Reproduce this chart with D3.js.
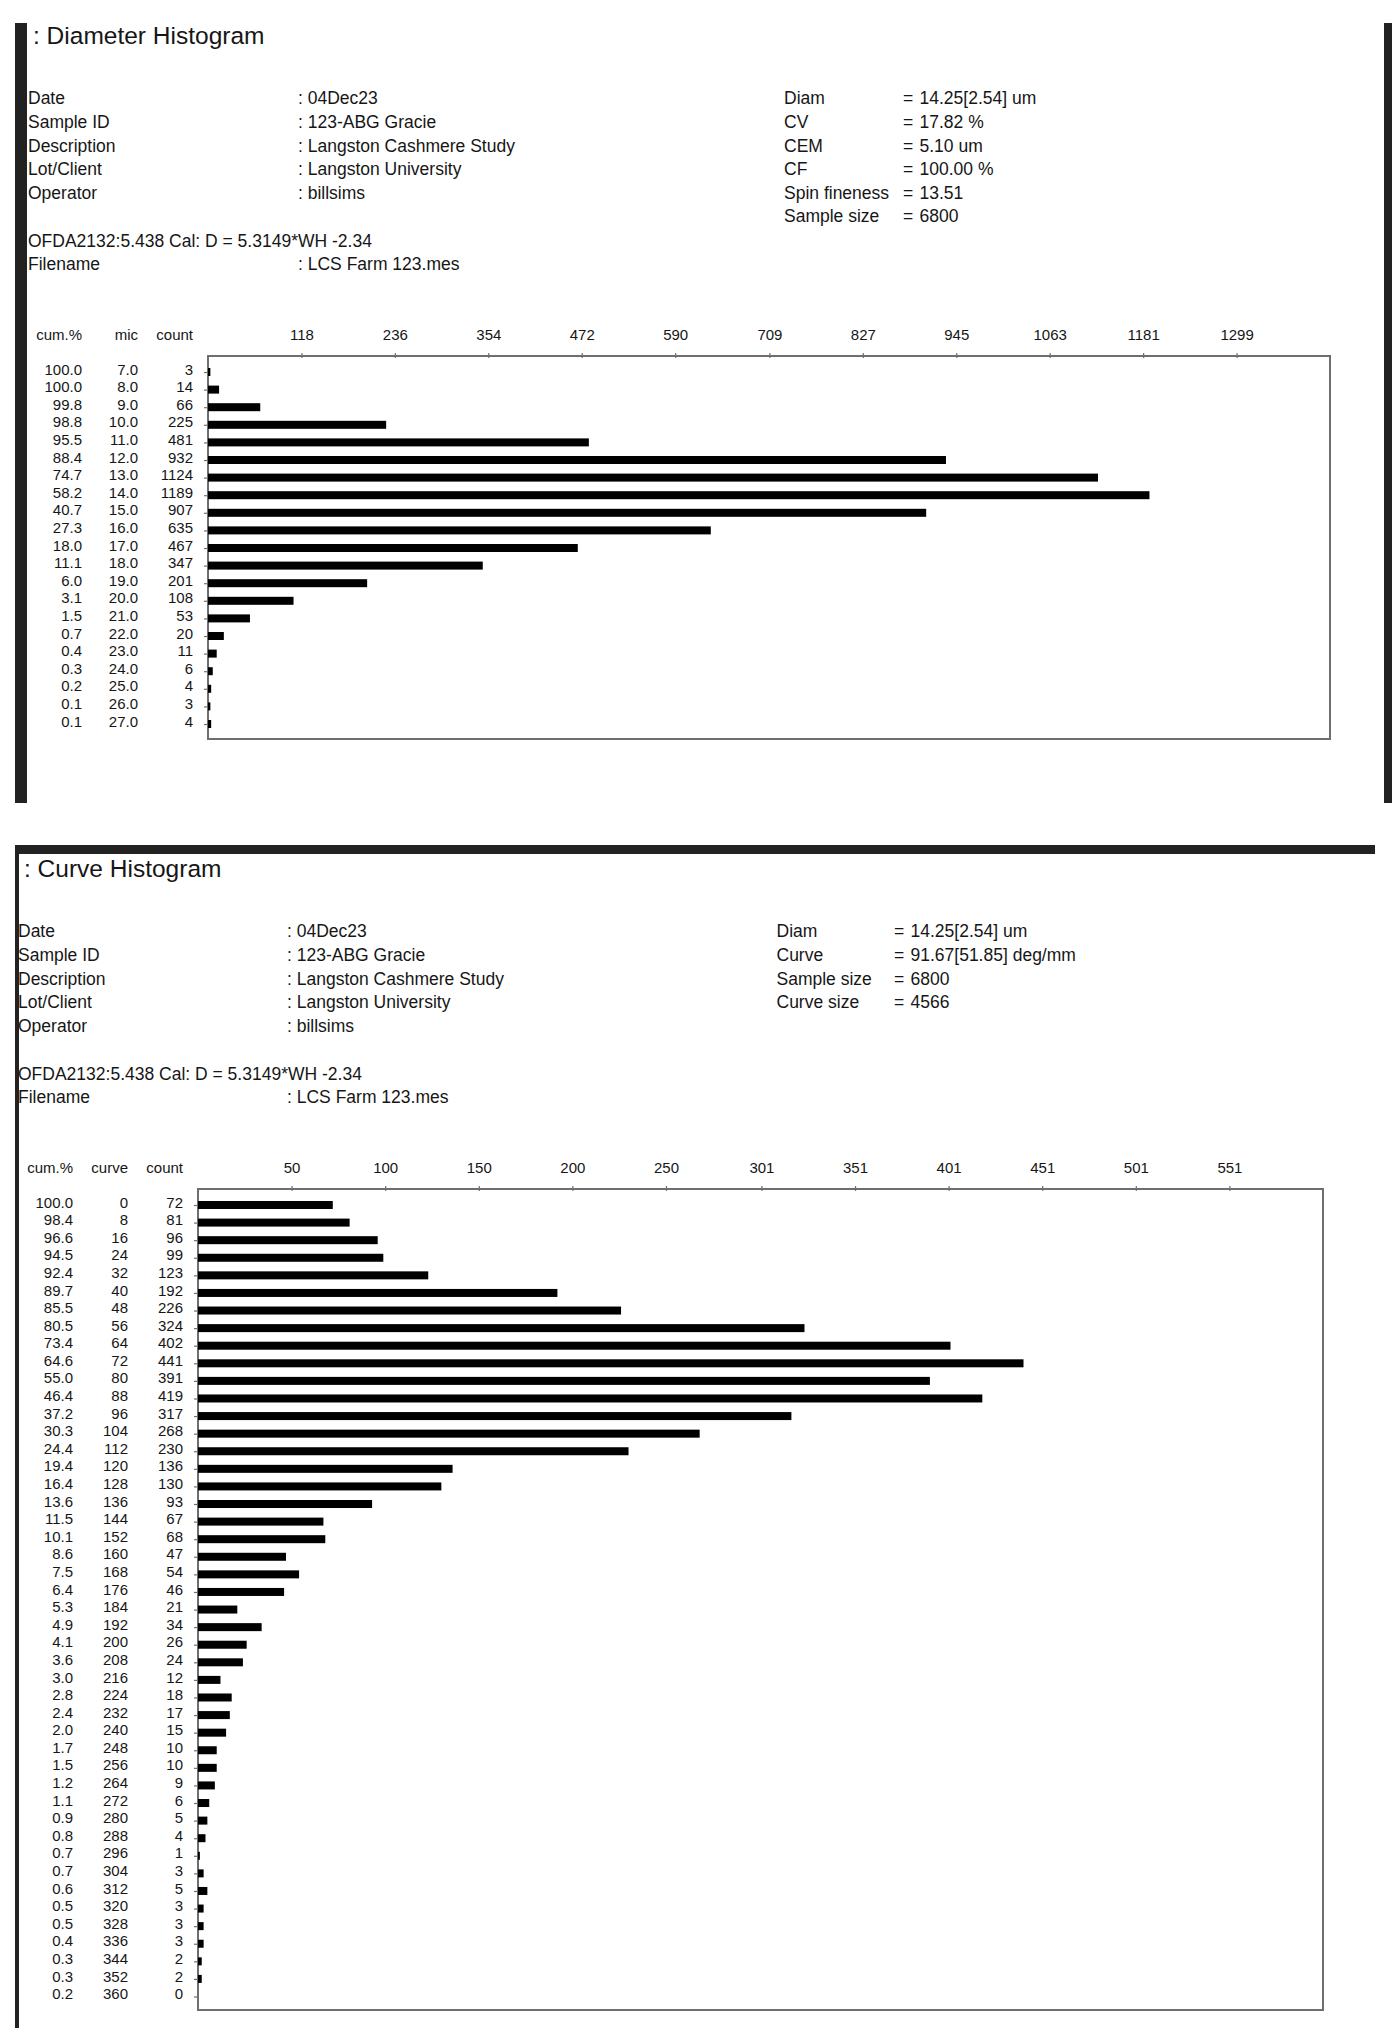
<!DOCTYPE html>
<html>
<head>
<meta charset="utf-8">
<script src="https://cdn.jsdelivr.net/npm/d3@7"></script>
<style>
  html, body { margin: 0; padding: 0; background: #fff; }
  svg { display: block; font-family: "Liberation Sans", Arial, sans-serif; }
</style>
</head>
<body>
<svg id="chart" width="1400" height="2028"></svg>
<script>
// ---------------- DATA ----------------
const infoLabels = ["Date", "Sample ID", "Description", "Lot/Client", "Operator"];
const infoValues = ["04Dec23", "123-ABG Gracie", "Langston Cashmere Study", "Langston University", "billsims"];
const calLine = "OFDA2132:5.438 Cal: D = 5.3149*WH -2.34";
const fileLabel = "Filename";
const fileValue = "LCS Farm 123.mes";

const diamTitle = ": Diameter Histogram";
const diamStatLabels = ["Diam", "CV", "CEM", "CF", "Spin fineness", "Sample size"];
const diamStatValues = ["14.25[2.54] um", "17.82 %", "5.10 um", "100.00 %", "13.51", "6800"];
const diamHeaders = ["cum.%", "mic", "count"];
const diamCum   = [100.0, 100.0, 99.8, 98.8, 95.5, 88.4, 74.7, 58.2, 40.7, 27.3, 18.0, 11.1, 6.0, 3.1, 1.5, 0.7, 0.4, 0.3, 0.2, 0.1, 0.1];
const diamMic   = [7, 8, 9, 10, 11, 12, 13, 14, 15, 16, 17, 18, 19, 20, 21, 22, 23, 24, 25, 26, 27];
const diamCount = [3, 14, 66, 225, 481, 932, 1124, 1189, 907, 635, 467, 347, 201, 108, 53, 20, 11, 6, 4, 3, 4];
const diamTicks = [118, 236, 354, 472, 590, 709, 827, 945, 1063, 1181, 1299];
const diamMax = 1417;

const curveTitle = ": Curve Histogram";
const curveStatLabels = ["Diam", "Curve", "Sample size", "Curve size"];
const curveStatValues = ["14.25[2.54] um", "91.67[51.85] deg/mm", "6800", "4566"];
const curveHeaders = ["cum.%", "curve", "count"];
const curveCum = [100.0, 98.4, 96.6, 94.5, 92.4, 89.7, 85.5, 80.5, 73.4, 64.6,
                  55.0, 46.4, 37.2, 30.3, 24.4, 19.4, 16.4, 13.6, 11.5, 10.1,
                  8.6, 7.5, 6.4, 5.3, 4.9, 4.1, 3.6, 3.0, 2.8, 2.4,
                  2.0, 1.7, 1.5, 1.2, 1.1, 0.9, 0.8, 0.7, 0.7, 0.6,
                  0.5, 0.5, 0.4, 0.3, 0.3, 0.2];
const curveBins = [0, 8, 16, 24, 32, 40, 48, 56, 64, 72,
                   80, 88, 96, 104, 112, 120, 128, 136, 144, 152,
                   160, 168, 176, 184, 192, 200, 208, 216, 224, 232,
                   240, 248, 256, 264, 272, 280, 288, 296, 304, 312,
                   320, 328, 336, 344, 352, 360];
const curveCount = [72, 81, 96, 99, 123, 192, 226, 324, 402, 441,
                    391, 419, 317, 268, 230, 136, 130, 93, 67, 68,
                    47, 54, 46, 21, 34, 26, 24, 12, 18, 17,
                    15, 10, 10, 9, 6, 5, 4, 1, 3, 5,
                    3, 3, 3, 2, 2, 0];
const curveTicks = [50, 100, 150, 200, 250, 301, 351, 401, 451, 501, 551];
const curveMax = 601;

// ---------------- DRAW ----------------
const svg = d3.select("#chart");
const ink = "#161616";
const boxColor = "#6e6e6e";

function panel(cfg) {
  const g = svg.append("g");

  // frame bars
  cfg.frames.forEach(f => g.append("rect").attr("x", f[0]).attr("y", f[1])
    .attr("width", f[2]).attr("height", f[3]).attr("fill", "#222"));

  // title
  g.append("text").attr("x", cfg.titleX).attr("y", cfg.titleY)
    .attr("font-size", 24.5).attr("fill", ink).text(cfg.title);

  // info block
  const infoFs = 17.5, rowH = 23.6;
  infoLabels.forEach((lab, i) => {
    const y = cfg.infoY + i * rowH;
    g.append("text").attr("x", cfg.labX).attr("y", y).attr("font-size", infoFs).attr("fill", ink).text(lab);
    g.append("text").attr("x", cfg.valX).attr("y", y).attr("font-size", infoFs).attr("fill", ink).text(": " + infoValues[i]);
  });
  cfg.statLabels.forEach((lab, i) => {
    const y = cfg.infoY + i * rowH;
    g.append("text").attr("x", cfg.statX).attr("y", y).attr("font-size", infoFs).attr("fill", ink).text(lab);
    g.append("text").attr("x", cfg.eqX).attr("y", y).attr("font-size", infoFs).attr("fill", ink).text("=");
    g.append("text").attr("x", cfg.eqX + 16.5).attr("y", y).attr("font-size", infoFs).attr("fill", ink).text(cfg.statValues[i]);
  });
  g.append("text").attr("x", cfg.labX).attr("y", cfg.calY).attr("font-size", infoFs).attr("fill", ink).text(calLine);
  g.append("text").attr("x", cfg.labX).attr("y", cfg.calY + 23).attr("font-size", infoFs).attr("fill", ink).text(fileLabel);
  g.append("text").attr("x", cfg.valX).attr("y", cfg.calY + 23).attr("font-size", infoFs).attr("fill", ink).text(": " + fileValue);

  // scales
  const b = cfg.box;
  const x = d3.scaleLinear().domain([0, cfg.max]).range([b.x0, b.x1]);
  const idx = d3.range(cfg.counts.length);
  const y = d3.scalePoint().domain(idx).range([cfg.rowY0, cfg.rowY1]);

  // box
  g.append("rect").attr("x", b.x0).attr("y", b.y0).attr("width", b.x1 - b.x0).attr("height", b.y1 - b.y0)
    .attr("fill", "none").attr("stroke", boxColor).attr("stroke-width", 2);

  // x axis (top)
  const tfs = 15;
  const ax = g.append("g").attr("transform", `translate(0,${b.y0})`)
    .call(d3.axisTop(x).tickValues(cfg.ticks).tickFormat(d3.format("d")).tickSizeInner(3).tickSizeOuter(0).tickPadding(cfg.headBase - 3));
  ax.select(".domain").remove();
  ax.selectAll(".tick line").attr("stroke", boxColor).attr("stroke-width", 1.2).attr("y1", 2);
  ax.selectAll(".tick text").attr("font-size", tfs).attr("fill", ink).attr("font-family", null);

  // y axis ticks (no labels)
  const ay = g.append("g").attr("transform", `translate(${b.x0 - 1},0)`)
    .call(d3.axisLeft(y).tickSizeInner(3).tickSizeOuter(0).tickFormat(""));
  ay.select(".domain").remove();
  ay.selectAll(".tick line").attr("stroke", boxColor).attr("stroke-width", 1.2);

  // bars
  g.append("g").selectAll("rect").data(idx).join("rect")
    .attr("x", x(0)).attr("y", i => y(i) - 4)
    .attr("width", i => x(cfg.counts[i]) - x(0)).attr("height", 8)
    .attr("fill", "#000");

  // table headers
  const hy = b.y0 - cfg.headBase;
  cfg.headers.forEach((h, k) => {
    g.append("text").attr("x", cfg.colX[k]).attr("y", hy).attr("text-anchor", "end")
      .attr("font-size", tfs).attr("fill", ink).text(h);
  });

  // table values
  const cols = [cfg.cum.map(v => v.toFixed(1)), cfg.bins.map(cfg.binFmt), cfg.counts.map(String)];
  cols.forEach((col, k) => {
    g.append("g").selectAll("text").data(idx).join("text")
      .attr("x", cfg.colX[k]).attr("y", i => y(i) + 2.6)
      .attr("text-anchor", "end").attr("font-size", tfs).attr("fill", ink)
      .text(i => col[i]);
  });
}

panel({
  frames: [[15, 23, 12, 780], [1384, 23, 8, 780]],
  title: diamTitle, titleX: 33, titleY: 44,
  labX: 28, valX: 298, infoY: 104.3, calY: 246.5,
  statLabels: diamStatLabels, statValues: diamStatValues, statX: 784, eqX: 903,
  box: {x0: 208, x1: 1330, y0: 356, y1: 739},
  max: diamMax, ticks: diamTicks, headBase: 15.6,
  rowY0: 372, rowY1: 724,
  counts: diamCount, cum: diamCum, bins: diamMic, binFmt: v => v.toFixed(1),
  headers: diamHeaders, colX: [82, 138, 193]
});

panel({
  frames: [[15, 845, 1360, 9], [15, 845, 4, 1183]],
  title: curveTitle, titleX: 24, titleY: 877,
  labX: 18, valX: 287, infoY: 937.3, calY: 1079.5,
  statLabels: curveStatLabels, statValues: curveStatValues, statX: 776.5, eqX: 894,
  box: {x0: 198, x1: 1323, y0: 1189, y1: 2010},
  max: curveMax, ticks: curveTicks, headBase: 15.6,
  rowY0: 1205, rowY1: 1996.5,
  counts: curveCount, cum: curveCum, bins: curveBins, binFmt: v => String(v),
  headers: curveHeaders, colX: [73, 128, 183]
});
</script>
</body>
</html>
